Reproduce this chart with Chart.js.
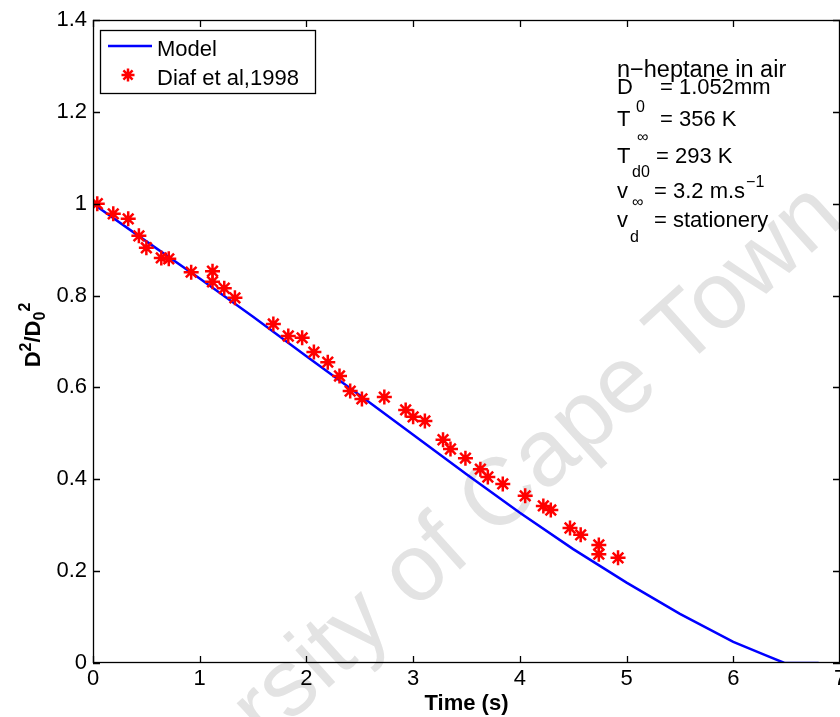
<!DOCTYPE html>
<html>
<head>
<meta charset="utf-8">
<script src="https://cdn.jsdelivr.net/npm/chart.js@4.4.1/dist/chart.umd.min.js"></script>
<style>
  html, body { margin: 0; padding: 0; background: #fff; }
  #wrap { width: 840px; height: 717px; }
</style>
</head>
<body>
<div id="wrap"><canvas id="dropChart" width="840" height="717"></canvas></div>
<script>
// model curve (time in s, D^2/D0^2)
const modelTime = [0, 0.5, 1, 1.5, 2, 2.5, 3, 3.5, 4, 4.5, 5, 5.5, 6, 6.3, 6.48, 6.8];
const modelRatio = [1.0, 0.918, 0.837, 0.754, 0.668, 0.583, 0.497, 0.411, 0.327, 0.248, 0.175, 0.107, 0.046, 0.017, 0, 0];

// experimental points, Diaf et al 1998
const expTime = [0.04, 0.19, 0.33, 0.43, 0.50, 0.64, 0.71, 0.92, 1.12, 1.12, 1.23, 1.33, 1.69, 1.83, 1.96, 2.07, 2.20, 2.31, 2.41, 2.52, 2.73, 2.93, 3.00, 3.11, 3.28, 3.35, 3.49, 3.63, 3.70, 3.84, 4.05, 4.22, 4.29, 4.47, 4.57, 4.74, 4.74, 4.92];
const expRatio = [1.0, 0.978, 0.967, 0.930, 0.904, 0.882, 0.880, 0.851, 0.853, 0.830, 0.816, 0.795, 0.738, 0.712, 0.708, 0.677, 0.655, 0.625, 0.592, 0.575, 0.579, 0.551, 0.536, 0.527, 0.486, 0.466, 0.446, 0.422, 0.405, 0.390, 0.364, 0.342, 0.333, 0.294, 0.279, 0.257, 0.237, 0.229];

// tick labels
const xTickLabels = ['0', '1', '2', '3', '4', '5', '6', '7'];
const yTickLabels = ['0', '0.2', '0.4', '0.6', '0.8', '1', '1.2', '1.4'];

const FONT = '"Liberation Sans", Arial, Helvetica, sans-serif';

function toPoints(xs, ys) {
    return xs.map((x, i) => ({ x: x, y: ys[i] }));
}

// draws a run of [text, fontSize, dy] pieces starting at x,y
function drawRun(ctx, pieces, x, y, weight) {
    let cx = x;
    pieces.forEach(p => {
        ctx.font = (weight || '') + ' ' + p[1] + 'px ' + FONT;
        ctx.fillText(p[0], cx, y + p[2]);
        cx += ctx.measureText(p[0]).width;
    });
    return cx - x;
}

// watermark, drawn first so everything sits on top of it
const watermark = {
    id: 'watermark',
    beforeDraw(chart) {
        const ctx = chart.ctx;
        ctx.save();
        ctx.translate(448, 545);
        ctx.rotate(-42 * Math.PI / 180);
        ctx.font = '95px ' + FONT;
        ctx.fillStyle = '#e3e3e3';
        ctx.textAlign = 'center';
        ctx.textBaseline = 'middle';
        ctx.fillText('University of Cape Town', 0, 0);
        ctx.restore();
    }
};

// box, inward ticks, legend and annotation (matlab look)
const matlabFrame = {
    id: 'matlabFrame',
    afterDatasetsDraw(chart) {
        const ctx = chart.ctx;
        const a = chart.chartArea;
        const xs = chart.scales.x, ys = chart.scales.y;
        ctx.save();
        ctx.strokeStyle = '#000';
        ctx.lineWidth = 1.3;
        ctx.strokeRect(a.left + 0.5, a.top + 0.5, a.right - a.left - 1, a.bottom - a.top - 1);
        const tl = 7;
        ctx.beginPath();
        xs.ticks.forEach(t => {
            const px = Math.round(xs.getPixelForValue(t.value)) + 0.5;
            ctx.moveTo(px, a.bottom); ctx.lineTo(px, a.bottom - tl);
            ctx.moveTo(px, a.top); ctx.lineTo(px, a.top + tl);
        });
        ys.ticks.forEach(t => {
            const py = Math.round(ys.getPixelForValue(t.value)) + 0.5;
            ctx.moveTo(a.left, py); ctx.lineTo(a.left + tl, py);
            ctx.moveTo(a.right, py); ctx.lineTo(a.right - tl, py);
        });
        ctx.stroke();

        // legend
        const ds = chart.data.datasets;
        ctx.lineWidth = 1.3;
        ctx.fillStyle = '#fff';
        ctx.fillRect(100, 30, 215, 63);
        ctx.strokeRect(100.5, 30.5, 215, 63);
        ctx.strokeStyle = ds[0].borderColor;
        ctx.lineWidth = 2.5;
        ctx.beginPath();
        ctx.moveTo(108, 46); ctx.lineTo(152, 46);
        ctx.stroke();
        ctx.strokeStyle = ds[1].borderColor;
        ctx.lineWidth = 2.5;
        ctx.beginPath();
        const r = 6.5, cx = 128, cy = 75;
        for (let k = 0; k < 4; k++) {
            const ang = k * Math.PI / 4;
            ctx.moveTo(cx + r * Math.cos(ang), cy + r * Math.sin(ang));
            ctx.lineTo(cx - r * Math.cos(ang), cy - r * Math.sin(ang));
        }
        ctx.stroke();
        ctx.fillStyle = '#000';
        ctx.font = '22px ' + FONT;
        ctx.textBaseline = 'alphabetic';
        ctx.fillText(ds[0].label, 157, 56);
        ctx.fillText(ds[1].label, 157, 85);

        // annotation text with sub/superscripts
        const big = '22px ' + FONT, small = '16px ' + FONT;
        const put = (txt, x, y, f) => { ctx.font = f; ctx.fillText(txt, x, y); return x + ctx.measureText(txt).width; };
        put('n\u2212heptane in air', 617, 77, '23.5px ' + FONT);
        put('D', 617, 94, big); put('0', 636, 112, small); put('= 1.052mm', 660, 94, big);
        put('T', 617, 126, big); put('\u221e', 637, 142, small); put('= 356 K', 660, 126, big);
        put('T', 617, 163, big); put('d0', 632, 177, small); put('= 293 K', 656, 163, big);
        put('v', 617, 198, big); put('\u221e', 632, 207, small);
        const endS = put('= 3.2 m.s', 654, 198, big);
        put('\u22121', endS + 1, 187, small);
        put('v', 617, 227, big); put('d', 630, 242, small); put('= stationery', 654, 227, big);

        // y axis title D^2/D0^2, rotated
        ctx.save();
        ctx.translate(40, 0);
        ctx.rotate(-Math.PI / 2);
        ctx.textAlign = 'left';
        const title = [['D', 22, 0], ['2', 16, -9], ['/D', 22, 0], ['0', 16, 5], ['2', 16, -10]];
        ctx.globalAlpha = 0;
        const w = drawRun(ctx, title, 0, 0, 'bold');
        ctx.globalAlpha = 1;
        drawRun(ctx, title, -(335 + w / 2), 0, 'bold');
        ctx.restore();
        ctx.restore();
    }
};

function createChart() {
    const ctx = document.getElementById('dropChart').getContext('2d');
    new Chart(ctx, {
        type: 'scatter',
        data: {
            datasets: [{
                label: 'Model',
                data: toPoints(modelTime, modelRatio),
                showLine: true,
                borderColor: 'rgb(0, 0, 255)',
                borderWidth: 2.5,
                pointRadius: 0,
                fill: false,
                tension: 0,
                order: 2
            }, {
                label: 'Diaf et al,1998',
                data: toPoints(expTime, expRatio),
                showLine: false,
                pointStyle: 'star',
                pointRadius: 7.5,
                borderColor: 'rgb(255, 0, 0)',
                backgroundColor: 'rgb(255, 0, 0)',
                pointBorderWidth: 2.5,
                order: 1
            }]
        },
        options: {
            responsive: false,
            animation: false,
            layout: { autoPadding: false, padding: { left: 0, right: 0, top: 20, bottom: 0 } },
            plugins: {
                legend: { display: false },
                tooltip: { enabled: false }
            },
            scales: {
                x: {
                    type: 'linear',
                    min: 0, max: 7,
                    grid: { display: false, drawTicks: false },
                    border: { display: false },
                    ticks: {
                        stepSize: 1,
                        padding: 3,
                        color: '#000',
                        font: { family: FONT, size: 22 },
                        maxRotation: 0,
                        callback: (v) => xTickLabels[Math.round(v)]
                    },
                    title: {
                        display: true,
                        text: 'Time (s)',
                        color: '#000',
                        font: { family: FONT, size: 22, weight: 'bold' },
                        padding: { top: 0, bottom: 0 }
                    },
                    afterFit(scale) {
                        scale.height = 54;
                        scale.paddingLeft = 0;
                        scale.paddingRight = 0;
                    }
                },
                y: {
                    type: 'linear',
                    min: 0, max: 1.4,
                    grid: { display: false, drawTicks: false },
                    border: { display: false },
                    ticks: {
                        stepSize: 0.2,
                        padding: 6,
                        color: '#000',
                        font: { family: FONT, size: 22 },
                        callback: (v) => yTickLabels[Math.round(v / 0.2)]
                    },
                    afterFit(scale) {
                        scale.width = 93;
                        scale.paddingTop = 0;
                        scale.paddingBottom = 0;
                    }
                }
            }
        },
        plugins: [watermark, matlabFrame]
    });
}

document.addEventListener('DOMContentLoaded', createChart);
</script>
</body>
</html>
